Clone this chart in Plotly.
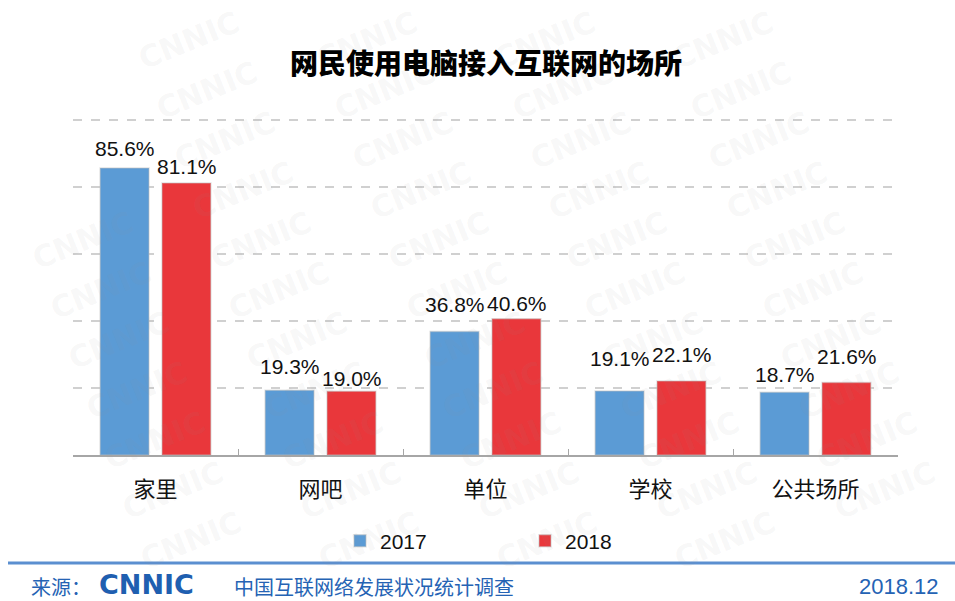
import plotly.graph_objects as go

categories = ["家里", "网吧", "单位", "学校", "公共场所"]
values_2017 = [85.6, 19.3, 36.8, 19.1, 18.7]
values_2018 = [81.1, 19.0, 40.6, 22.1, 21.6]
series_names = ["2017", "2018"]
colors = ["#5B9BD5", "#E9373B"]
# label lift above bar top (px), style only
label_lift_2017 = [19, 24, 27, 32, 18]
label_lift_2018 = [17, 13, 15, 26, 26]

W, H = 955, 601
L, R, T, B = 73, 57, 118, 146
pw, ph = W - L - R, H - T - B

def px(x):
    return (x - L) / pw

def py(y):
    return (H - B - y) / ph

fig = go.Figure()
for name, vals, col in zip(series_names, [values_2017, values_2018], colors):
    fig.add_trace(go.Bar(
        x=categories, y=vals, name=name,
        marker=dict(color=col, line=dict(color="rgba(190,190,190,0.45)", width=1.5)),
        cliponaxis=False, hoverinfo="x+y",
    ))

def note(text, x, y, size, color, family, xanchor="center", angle=0, weight=None):
    f = dict(size=size, color=color, family=family)
    if weight:
        f["weight"] = weight
    return dict(text=text, x=px(x), y=py(y), xref="paper", yref="paper",
                xanchor=xanchor, yanchor="middle", showarrow=False, textangle=angle, font=f)

annotations = []
# faint CNNIC watermark pattern (decoration)
for j in range(-2, 7):
    for k in range(0, 12):
        cx = 10 + 178 * j + 18 * k
        cy = 40 + 50 * k
        if 70 <= cx <= 885 and 28 <= cy <= 572:
            annotations.append(note("<b>CNNIC</b>", cx, cy, 30, "rgba(150,150,150,0.08)",
                                    "DejaVu Sans", angle=-22))

# data labels
for vals, lifts, shift in [(values_2017, label_lift_2017, -31), (values_2018, label_lift_2018, 31)]:
    for c, v, lift in zip(categories, vals, lifts):
        annotations.append(dict(
            text=f"{v:.1f}%", x=c, y=v, xref="x", yref="y", xshift=shift, yshift=lift,
            xanchor="center", yanchor="middle", showarrow=False,
            font=dict(size=21, color="#111111", family="Liberation Sans, Arial"),
        ))

blue = "#2563B4"
annotations += [
    note("网民使用电脑接入互联网的场所", 486, 62, 28, "#000000", "Noto Sans CJK SC", weight=900),
    note("来源：", 29, 586, 20, blue, "Noto Sans CJK SC", xanchor="left"),
    note("<b>CNNIC</b>", 97, 584, 27, "#1F5FB0", "DejaVu Sans", xanchor="left"),
    note("中国互联网络发展状况统计调查", 232, 586, 20, blue, "Noto Sans CJK SC", xanchor="left"),
    note("2018.12", 941, 586, 22, blue, "Liberation Sans", xanchor="right"),
]

fig.update_layout(
    width=W, height=H,
    margin=dict(l=L, r=R, t=T, b=B, autoexpand=False),
    paper_bgcolor="white", plot_bgcolor="rgba(0,0,0,0)",
    barmode="group", bargap=0.25, bargroupgap=0.21,
    font=dict(family="Liberation Sans, Noto Sans CJK SC, sans-serif", color="#111111"),
    showlegend=True,
    legend=dict(orientation="h", x=px(525), xanchor="center", y=py(541), yanchor="middle",
                entrywidth=140, font=dict(size=21, family="Liberation Sans"),
                itemwidth=30, bgcolor="rgba(0,0,0,0)"),
    annotations=annotations,
    shapes=[dict(type="line", xref="paper", yref="paper", x0=px(8), x1=px(955),
                 y0=py(563), y1=py(563), line=dict(color="#5B8FD0", width=3))],
)
fig.update_xaxes(
    showline=True, linecolor="#A6A6A6", linewidth=1.5,
    ticks="inside", ticklen=6, tickcolor="#A6A6A6", tickson="boundaries",
    tickfont=dict(size=22, family="Noto Sans CJK SC", color="#111111"),
    ticklabelstandoff=14,
)
fig.update_yaxes(
    range=[0, 100.5], dtick=20, showticklabels=False, showgrid=True,
    gridcolor="#D0D0D0", griddash="dash", gridwidth=1.5, zeroline=False,
)
fig.write_html("out.html", config={"displayModeBar": False},
               post_script="document.body.style.margin='0';")
